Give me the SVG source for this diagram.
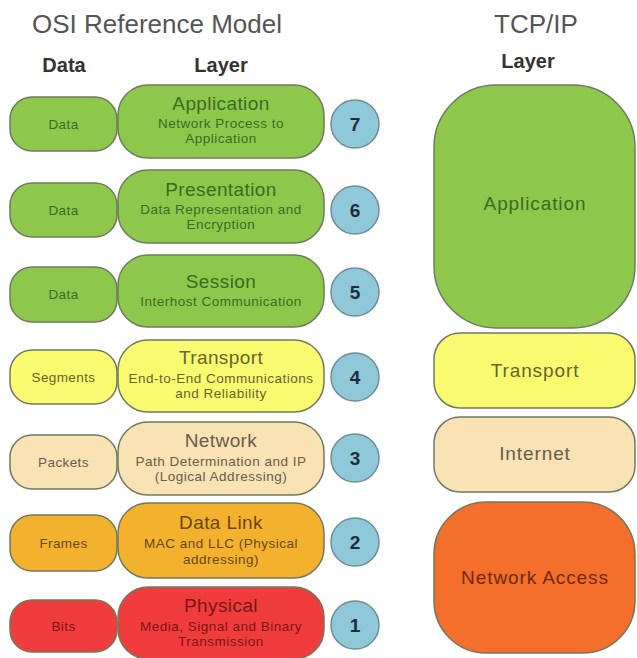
<svg xmlns="http://www.w3.org/2000/svg" width="637" height="658" viewBox="0 0 637 658">
  <style>
    text { font-family: "Liberation Sans", Arial, sans-serif; text-anchor: middle; }
    .title { font-size: 26px; fill: #555555; }
    .head { font-size: 20px; font-weight: bold; fill: #333333; }
    .box { stroke: #6f7a5e; stroke-width: 1.5; }
    .num { fill: #8fc9d9; stroke: #6f8d96; stroke-width: 1.5; }
    .numtxt { font-size: 19px; font-weight: bold; fill: #1f2d38; }
    .lt { font-size: 19px; letter-spacing: 0.4px; }
    .st { font-size: 13.5px; letter-spacing: 0.5px; }
    .dt { font-size: 13.5px; letter-spacing: 0.4px; }
    .tcp { font-size: 19px; letter-spacing: 0.9px; }
    .green { fill: #8dc84d; }
    .yellow { fill: #fafa70; }
    .tan { fill: #f9e2b4; }
    .amber { fill: #f3b22e; }
    .red { fill: #f03c3c; }
    .orange { fill: #f46e2c; }
    .tg { fill: #3d6a22; }
    .ty { fill: #66652c; }
    .tt { fill: #665d4e; }
    .ta { fill: #6a4510; }
    .tr { fill: #7a1414; }
    .to { fill: #6e2a12; }
  </style>

  <!-- headings -->
  <text class="title" x="157" y="33">OSI Reference Model</text>
  <text class="head" x="64" y="72">Data</text>
  <text class="head" x="221" y="72">Layer</text>
  <text class="title" x="536" y="33">TCP/IP</text>
  <text class="head" x="528" y="68">Layer</text>

  <!-- OSI layers -->
  <g id="osi-7-application">
    <rect class="box green" x="10" y="97" width="107" height="54" rx="22"/>
    <text class="dt tg" x="63.5" y="128.5">Data</text>
    <rect class="box green" x="118" y="85" width="206" height="73" rx="30"/>
    <text class="lt tg" x="221" y="110">Application</text>
    <text class="st tg" x="221" y="128">Network Process to</text>
    <text class="st tg" x="221" y="143">Application</text>
    <circle class="num" cx="355" cy="124" r="24"/>
    <text class="numtxt" x="355" y="131">7</text>
  </g>

  <g id="osi-6-presentation">
    <rect class="box green" x="10" y="183" width="107" height="54" rx="22"/>
    <text class="dt tg" x="63.5" y="214.5">Data</text>
    <rect class="box green" x="118" y="170" width="206" height="73" rx="30"/>
    <text class="lt tg" x="221" y="196">Presentation</text>
    <text class="st tg" x="221" y="214">Data Representation and</text>
    <text class="st tg" x="221" y="229">Encryption</text>
    <circle class="num" cx="355" cy="210" r="24"/>
    <text class="numtxt" x="355" y="217">6</text>
  </g>

  <g id="osi-5-session">
    <rect class="box green" x="10" y="267" width="107" height="55" rx="22"/>
    <text class="dt tg" x="63.5" y="299">Data</text>
    <rect class="box green" x="118" y="255" width="206" height="72" rx="30"/>
    <text class="lt tg" x="221" y="288">Session</text>
    <text class="st tg" x="221" y="306">Interhost Communication</text>
    <circle class="num" cx="355" cy="292" r="24"/>
    <text class="numtxt" x="355" y="299">5</text>
  </g>

  <g id="osi-4-transport">
    <rect class="box yellow" x="10" y="350" width="107" height="54" rx="22"/>
    <text class="dt ty" x="63.5" y="381.5">Segments</text>
    <rect class="box yellow" x="118" y="340" width="206" height="72" rx="30"/>
    <text class="lt ty" x="221" y="364">Transport</text>
    <text class="st ty" x="221" y="383">End-to-End Communications</text>
    <text class="st ty" x="221" y="398">and Reliability</text>
    <circle class="num" cx="355" cy="377" r="24"/>
    <text class="numtxt" x="355" y="384">4</text>
  </g>

  <g id="osi-3-network">
    <rect class="box tan" x="10" y="435" width="107" height="54" rx="22"/>
    <text class="dt tt" x="63.5" y="466.5">Packets</text>
    <rect class="box tan" x="118" y="422" width="206" height="73" rx="30"/>
    <text class="lt tt" x="221" y="447">Network</text>
    <text class="st tt" x="221" y="466">Path Determination and IP</text>
    <text class="st tt" x="221" y="481">(Logical Addressing)</text>
    <circle class="num" cx="355" cy="458" r="24"/>
    <text class="numtxt" x="355" y="465">3</text>
  </g>

  <g id="osi-2-datalink">
    <rect class="box amber" x="10" y="515" width="107" height="56" rx="22"/>
    <text class="dt ta" x="63.5" y="547.5">Frames</text>
    <rect class="box amber" x="118" y="503" width="206" height="75" rx="30"/>
    <text class="lt ta" x="221" y="529">Data Link</text>
    <text class="st ta" x="221" y="548">MAC and LLC (Physical</text>
    <text class="st ta" x="221" y="564">addressing)</text>
    <circle class="num" cx="355" cy="542" r="24"/>
    <text class="numtxt" x="355" y="549">2</text>
  </g>

  <g id="osi-1-physical">
    <rect class="box red" x="10" y="600" width="107" height="52" rx="22"/>
    <text class="dt tr" x="63.5" y="630.5">Bits</text>
    <rect class="box red" x="118" y="587" width="206" height="72" rx="30"/>
    <text class="lt tr" x="221" y="612">Physical</text>
    <text class="st tr" x="221" y="631">Media, Signal and Binary</text>
    <text class="st tr" x="221" y="646">Transmission</text>
    <circle class="num" cx="355" cy="625" r="24"/>
    <text class="numtxt" x="355" y="632">1</text>
  </g>

  <!-- TCP/IP layers -->
  <g id="tcp-application">
    <rect class="box green" x="434" y="85" width="201" height="243" rx="62"/>
    <text class="tcp tg" x="535" y="210">Application</text>
  </g>

  <g id="tcp-transport">
    <rect class="box yellow" x="434" y="333" width="201" height="75" rx="26"/>
    <text class="tcp ty" x="535" y="377">Transport</text>
  </g>

  <g id="tcp-internet">
    <rect class="box tan" x="434" y="417" width="201" height="75" rx="26"/>
    <text class="tcp tt" x="535" y="460">Internet</text>
  </g>

  <g id="tcp-network-access">
    <rect class="box orange" x="434" y="502" width="201" height="151" rx="52"/>
    <text class="tcp to" x="535" y="584">Network Access</text>
  </g>

  <g id="connectors"></g>
</svg>
